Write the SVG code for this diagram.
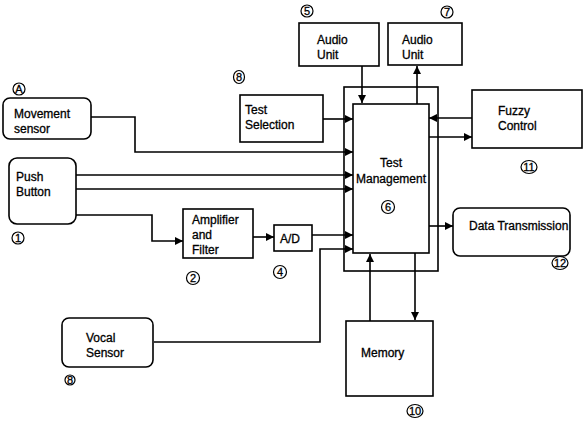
<svg xmlns="http://www.w3.org/2000/svg" width="588" height="425" viewBox="0 0 588 425">
<style>
.box{fill:#fff;stroke:#000;stroke-width:1.6}
.ln{fill:none;stroke:#000;stroke-width:1.6}
text{font-family:"Liberation Sans",Arial,sans-serif;font-size:12px;fill:#000;stroke:#000;stroke-width:0.3}
.num{font-size:11px;text-anchor:middle}
.cir{fill:none;stroke:#000;stroke-width:1.2}
</style>
<defs>
<marker id="ah" viewBox="0 0 10 10" refX="10" refY="5" markerWidth="8" markerHeight="8" markerUnits="userSpaceOnUse" orient="auto">
<path d="M0,0 L10,5 L0,10 Z" fill="#000"/>
</marker>
</defs>
<rect width="588" height="425" fill="#fff"/>

<g id="connectors">
<path class="ln" d="M91,117 H135 V152 H353" marker-end="url(#ah)"/>
<path class="ln" d="M76,175 H353" marker-end="url(#ah)"/>
<path class="ln" d="M76,189 H353" marker-end="url(#ah)"/>
<path class="ln" d="M76,215 H152 V241 H183" marker-end="url(#ah)"/>
<path class="ln" d="M253,237 H274" marker-end="url(#ah)"/>
<path class="ln" d="M312,235 H353" marker-end="url(#ah)"/>
<path class="ln" d="M154,342 H320 V249 H353" marker-end="url(#ah)"/>
<path class="ln" d="M323,119 H353" marker-end="url(#ah)"/>
<path class="ln" d="M362,66 V103" marker-end="url(#ah)"/>
<path class="ln" d="M417,104 V66" marker-end="url(#ah)"/>
<path class="ln" d="M472,118 H429" marker-end="url(#ah)"/>
<path class="ln" d="M429,137 H472" marker-end="url(#ah)"/>
<path class="ln" d="M429,226 H453" marker-end="url(#ah)"/>
<path class="ln" d="M370,321 V254" marker-end="url(#ah)"/>
<path class="ln" d="M415,253 V320" marker-end="url(#ah)"/>
</g>

<g id="test-management">
<rect class="box" x="344" y="87" width="94" height="184" style="fill:none"/>
<rect class="box" x="353" y="104" width="76" height="149"/>
<text x="391" y="167" text-anchor="middle">Test</text>
<text x="391" y="183" text-anchor="middle">Management</text>
<circle class="cir" cx="388" cy="207" r="6.5"/>
<text class="num" x="388" y="211">6</text>
</g>

<g id="movement-sensor">
<rect class="box" x="3" y="98" width="88" height="41" rx="7"/>
<text x="14" y="118">Movement</text>
<text x="14" y="133">sensor</text>
<circle class="cir" cx="19" cy="89" r="6"/>
<text class="num" x="19" y="93">A</text>
</g>

<g id="push-button">
<rect class="box" x="9" y="158" width="67" height="66" rx="8"/>
<text x="16" y="181">Push</text>
<text x="16" y="196">Button</text>
<circle class="cir" cx="18" cy="238" r="6"/>
<text class="num" x="18" y="242">1</text>
</g>

<g id="amplifier">
<rect class="box" x="183" y="209" width="70" height="49"/>
<text x="192" y="224">Amplifier</text>
<text x="192" y="239">and</text>
<text x="192" y="254">Filter</text>
<circle class="cir" cx="193" cy="278" r="6.5"/>
<text class="num" x="193" y="282">2</text>
</g>

<g id="ad">
<rect class="box" x="274" y="225" width="38" height="26"/>
<text x="280" y="243">A/D</text>
<circle class="cir" cx="280" cy="272" r="6.5"/>
<text class="num" x="280" y="276">4</text>
</g>

<g id="vocal-sensor">
<rect class="box" x="62" y="318" width="91" height="49" rx="7"/>
<text x="86" y="342">Vocal</text>
<text x="86" y="357">Sensor</text>
<circle class="cir" cx="70" cy="380" r="5"/>
<text class="num" x="70" y="384">8</text>
</g>

<g id="audio-unit-5">
<rect class="box" x="299" y="23" width="80" height="43"/>
<text x="317" y="44">Audio</text>
<text x="317" y="59">Unit</text>
<circle class="cir" cx="307" cy="11" r="6"/>
<text class="num" x="307" y="15">5</text>
</g>

<g id="audio-unit-7">
<rect class="box" x="388" y="23" width="74" height="42"/>
<text x="402" y="44">Audio</text>
<text x="402" y="59">Unit</text>
<circle class="cir" cx="447" cy="12" r="6"/>
<text class="num" x="447" y="16">7</text>
</g>

<g id="test-selection">
<rect class="box" x="240" y="95" width="83" height="47"/>
<text x="245" y="114">Test</text>
<text x="245" y="129">Selection</text>
<ellipse class="cir" cx="239" cy="77" rx="5.5" ry="6.5"/>
<text class="num" x="239" y="81">8</text>
</g>

<g id="fuzzy-control">
<rect class="box" x="472" y="90" width="110" height="58"/>
<text x="498" y="115">Fuzzy</text>
<text x="498" y="130">Control</text>
<ellipse class="cir" cx="529" cy="167" rx="8" ry="6.5"/>
<text class="num" x="529" y="171">11</text>
</g>

<g id="data-transmission">
<rect class="box" x="453" y="208" width="117" height="48" rx="7"/>
<text x="469" y="230">Data Transmission</text>
<ellipse class="cir" cx="560" cy="263" rx="8" ry="6.5"/>
<text class="num" x="560" y="267">12</text>
</g>

<g id="memory">
<rect class="box" x="346" y="321" width="87" height="75"/>
<text x="361" y="357">Memory</text>
<ellipse class="cir" cx="415" cy="411" rx="8" ry="6.5"/>
<text class="num" x="415" y="415">10</text>
</g>
</svg>
